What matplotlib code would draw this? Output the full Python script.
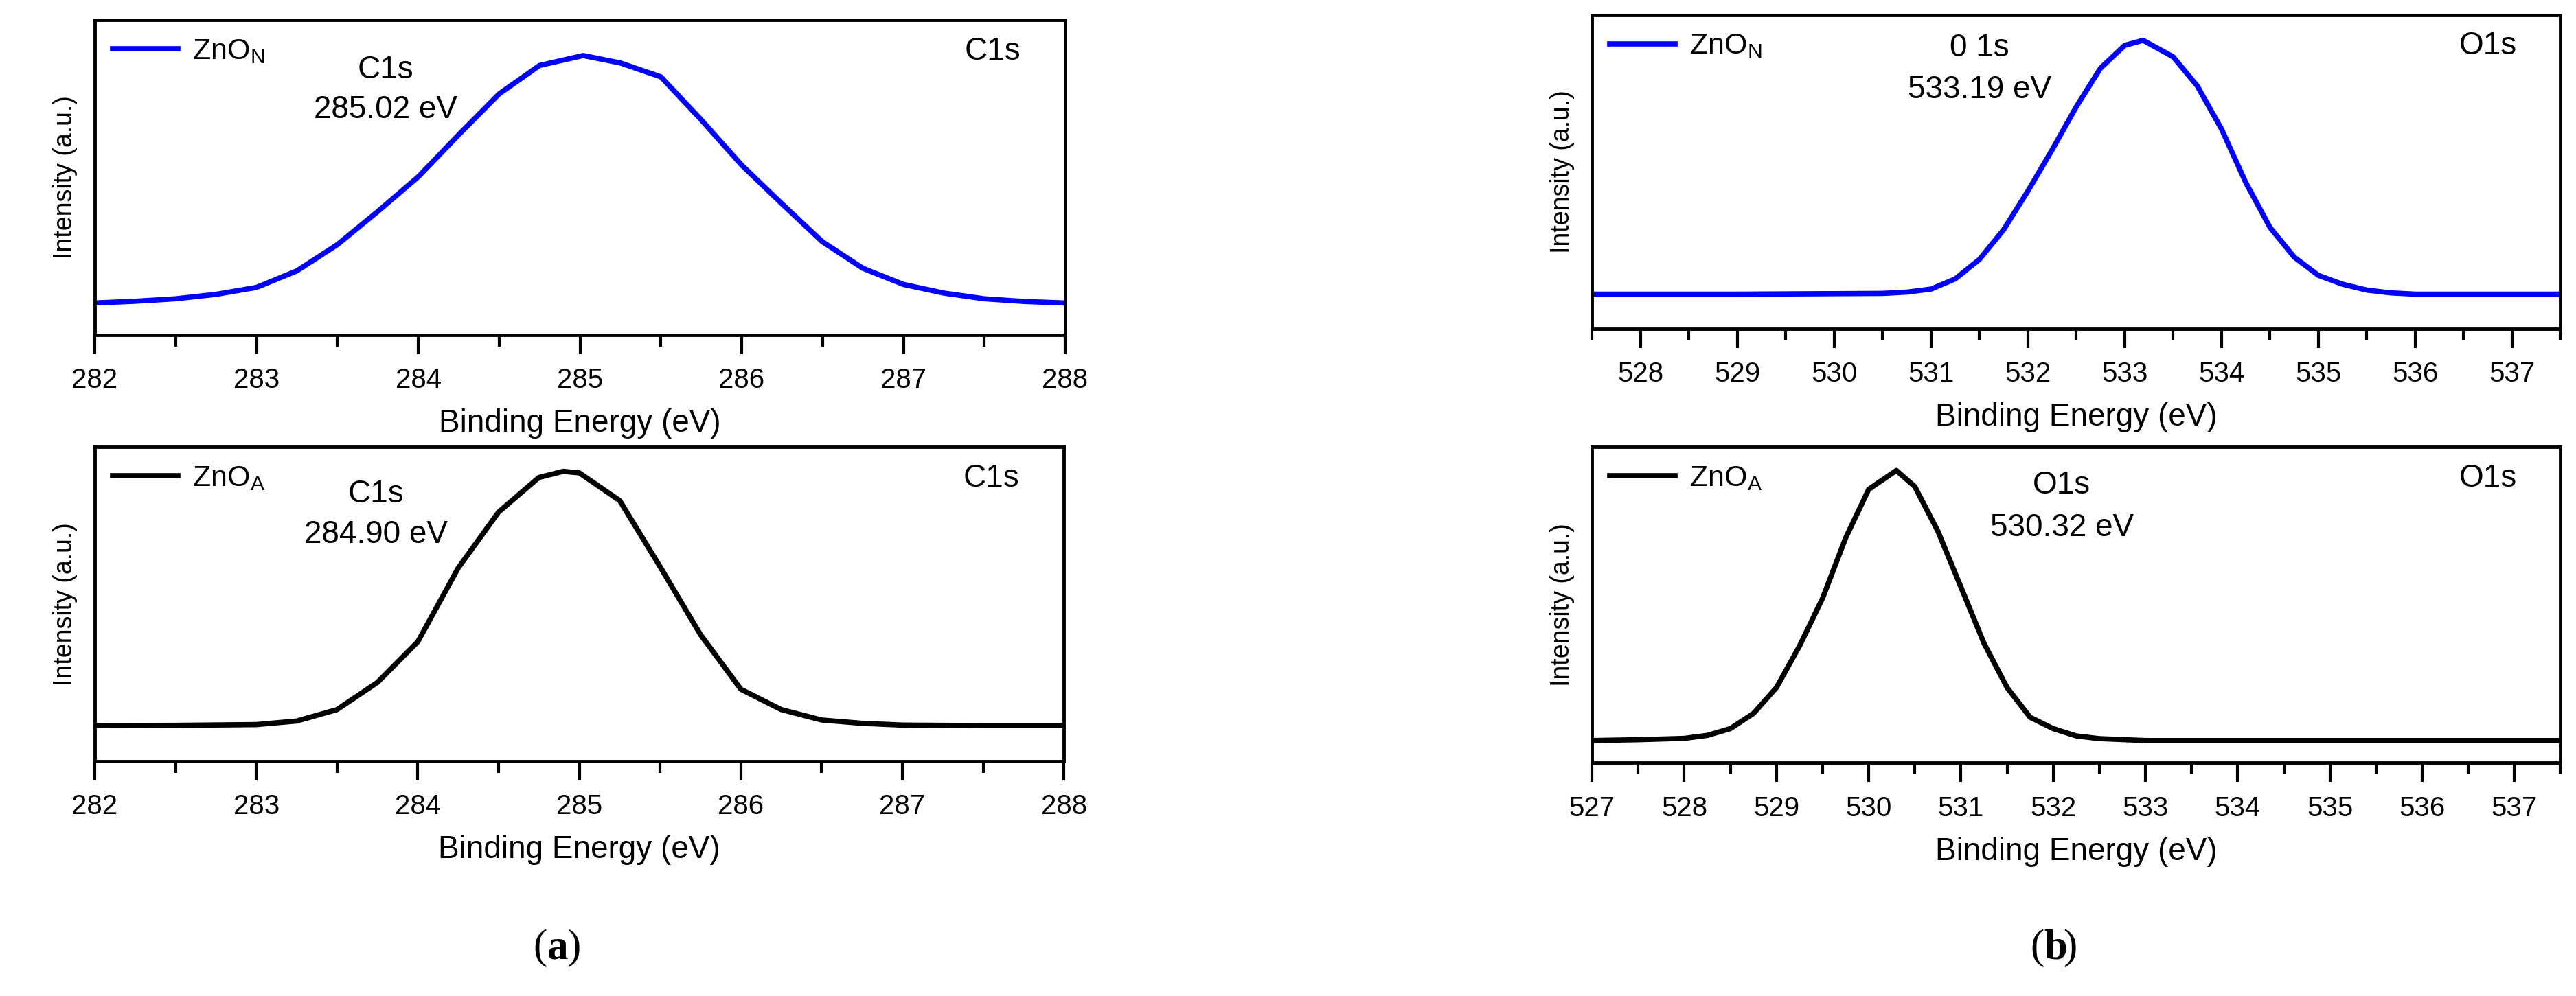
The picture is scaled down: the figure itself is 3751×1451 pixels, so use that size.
import matplotlib
matplotlib.use('Agg')
import matplotlib.pyplot as plt
from matplotlib.ticker import MultipleLocator

plt.rcParams['font.family'] = ['Liberation Sans Narrow', 'Liberation Sans', 'DejaVu Sans']

# C1s, ZnO_N (normalised intensity)
c1s_n_x = [282, 282.25, 282.5, 282.75, 283, 283.25, 283.5, 283.75, 284, 284.25, 284.5, 284.75,
           285, 285.02, 285.25, 285.5, 285.75, 286, 286.25, 286.5, 286.75, 287, 287.25, 287.5, 287.75, 288]
c1s_n_y = [0.0, 0.007, 0.017, 0.035, 0.063, 0.13, 0.236, 0.37, 0.51, 0.68, 0.845, 0.96,
           0.997, 1.0, 0.97, 0.914, 0.74, 0.557, 0.40, 0.247, 0.14, 0.075, 0.04, 0.017, 0.006, 0.0]
# C1s, ZnO_A
c1s_a_x = [282, 282.5, 283, 283.25, 283.5, 283.75, 284, 284.25, 284.5, 284.75, 284.9, 285,
           285.25, 285.5, 285.75, 286, 286.25, 286.5, 286.75, 287, 287.5, 288]
c1s_a_y = [0.0, 0.001, 0.004, 0.018, 0.063, 0.17, 0.33, 0.62, 0.84, 0.976, 1.0, 0.994,
           0.885, 0.625, 0.358, 0.143, 0.063, 0.022, 0.009, 0.002, 0.0, 0.0]
# O1s, ZnO_N
o1s_n_x = [527.5, 529, 530.5, 530.75, 531, 531.25, 531.5, 531.75, 532, 532.25, 532.5, 532.75,
           533, 533.19, 533.5, 533.75, 534, 534.25, 534.5, 534.75, 535, 535.25, 535.5, 535.75, 536, 537.5]
o1s_n_y = [0.0, 0.0, 0.003, 0.008, 0.02, 0.06, 0.137, 0.254, 0.406, 0.568, 0.738, 0.89,
           0.98, 1.0, 0.935, 0.82, 0.65, 0.44, 0.263, 0.146, 0.074, 0.039, 0.016, 0.005, 0.0, 0.0]
# O1s, ZnO_A
o1s_a_x = [527, 527.5, 528, 528.25, 528.5, 528.75, 529, 529.25, 529.5, 529.75, 530, 530.3,
           530.5, 530.75, 531, 531.25, 531.5, 531.75, 532, 532.25, 532.5, 533, 537.5]
o1s_a_y = [0.0, 0.003, 0.008, 0.019, 0.044, 0.10, 0.196, 0.35, 0.527, 0.75, 0.93, 1.0,
           0.94, 0.775, 0.568, 0.36, 0.196, 0.086, 0.044, 0.017, 0.007, 0.0, 0.0]

panels = [
    # rect, x, y, colour, sample, xlim, ylim, peak name, peak label, name pos, right tag
    ([0.0368, 0.664, 0.3767, 0.316], c1s_n_x, c1s_n_y, 'blue', 'N', (282, 288), (-0.128, 1.144),
     'C1s', '285.02 eV', (0.30, 0.84, 0.714), 'C1s'),
    ([0.0368, 0.236, 0.3762, 0.315], c1s_a_x, c1s_a_y, 'black', 'A', (282, 288), (-0.139, 1.095),
     'C1s', '284.90 eV', (0.29, 0.85, 0.72), 'C1s'),
    ([0.618, 0.670, 0.376, 0.315], o1s_n_x, o1s_n_y, 'blue', 'N', (527.5, 537.5), (-0.136, 1.10),
     '0 1s', '533.19 eV', (0.40, 0.895, 0.76), 'O1s'),
    ([0.618, 0.234, 0.376, 0.317], o1s_a_x, o1s_a_y, 'black', 'A', (527, 537.5), (-0.083, 1.086),
     'O1s', '530.32 eV', (0.485, 0.88, 0.745), 'O1s'),
]

fig = plt.figure(figsize=(37.51, 14.51), dpi=100)
for rect, x, y, col, sub, xlim, ylim, pname, plabel, pos, tag in panels:
    ax = fig.add_axes(rect)
    ax.plot(x, y, color=col, lw=5.5, label='ZnO$_\\mathregular{%s}$' % sub)
    ax.set_xlim(*xlim)
    ax.set_ylim(*ylim)
    ax.xaxis.set_major_locator(MultipleLocator(1))
    ax.xaxis.set_minor_locator(MultipleLocator(0.5))
    ax.tick_params(axis='x', which='major', length=20, width=3, labelsize=29, direction='out', pad=14)
    ax.tick_params(axis='x', which='minor', length=12, width=3, direction='out')
    ax.set_yticks([])
    for s in ax.spines.values():
        s.set_linewidth(3.5)
    ax.set_xlabel('Binding Energy (eV)', fontsize=33, labelpad=16)
    ax.set_ylabel('Intensity (a.u.)', fontsize=27, family=['Liberation Sans', 'DejaVu Sans'], labelpad=18)
    ax.legend(loc='upper left', frameon=False, fontsize=31, handlelength=2.2, handletextpad=0.5,
              borderaxespad=0.2, bbox_to_anchor=(0.0, 1.0))
    ax.text(pos[0], pos[1], pname, transform=ax.transAxes, ha='center', va='center', fontsize=33)
    ax.text(pos[0], pos[2], plabel, transform=ax.transAxes, ha='center', va='center', fontsize=33)
    ax.text(0.925, 0.90, tag, transform=ax.transAxes, ha='center', va='center', fontsize=33)

for xc, letter in [(0.2125, 'a'), (0.7935, 'b')]:
    fig.text(xc, 0.048, '(', ha='right', va='center', fontsize=44, family='Liberation Serif')
    fig.text(xc, 0.048, letter, ha='left', va='center', fontsize=44, family='Liberation Serif',
             weight='bold')
    fig.text(xc + 0.0075, 0.048, ')', ha='left', va='center', fontsize=44, family='Liberation Serif')

fig.savefig('out.png', dpi=100)
